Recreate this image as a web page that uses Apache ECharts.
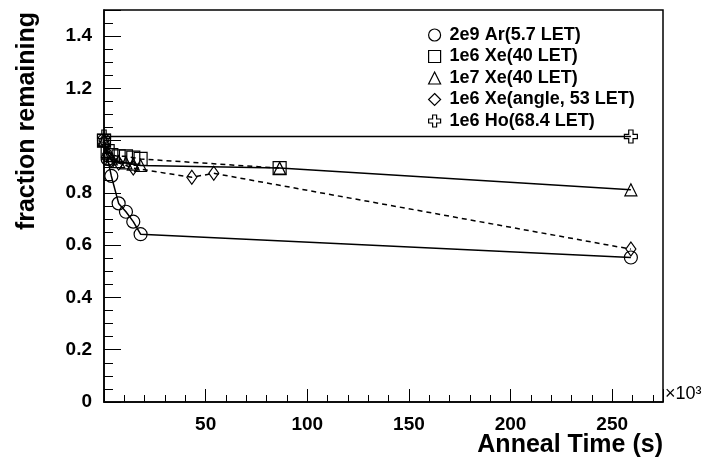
<!DOCTYPE html>
<html>
<head>
<meta charset="utf-8">
<script src="https://cdn.jsdelivr.net/npm/echarts@6/dist/echarts.min.js"></script>
<style>
html, body { margin: 0; padding: 0; background: #fff; }
#main { width: 710px; height: 468px; }
</style>
</head>
<body>
<div id="main"></div>
<script>
// 退火时间 (x10^3 s) 与剩余比例
var arX = [0, 1.8, 3.6, 7.2, 10.8, 14.4, 18, 259.2];
var arY = [1.0, 0.93, 0.865, 0.76, 0.728, 0.69, 0.642, 0.553];

var xe6X = [0, 1.8, 3.6, 7.2, 10.8, 14.4, 18, 86.4];
var xe6Y = [1.0, 0.96, 0.945, 0.94, 0.94, 0.935, 0.93, 0.895];

var xe7X = [0, 1.8, 3.6, 7.2, 10.8, 14.4, 18, 86.4, 259.2];
var xe7Y = [1.0, 0.95, 0.93, 0.92, 0.915, 0.91, 0.905, 0.895, 0.812];

var angX = [0, 1.8, 3.6, 7.2, 14.4, 43.2, 54, 259.2];
var angY = [1.0, 0.95, 0.925, 0.915, 0.895, 0.86, 0.875, 0.585];

var hoX = [0, 259.2];
var hoY = [1.016, 1.016];

var names = ['2e9 Ar(5.7 LET)', '1e6 Xe(40 LET)', '1e7 Xe(40 LET)', '1e6 Xe(angle, 53 LET)', '1e6 Ho(68.4 LET)'];

var crossPath = 'path://M4,0 H8 V4 H12 V8 H8 V12 H4 V8 H0 V4 H4 Z';

function pairs(xs, ys) {
    var out = [];
    for (var i = 0; i < xs.length; i++) out.push([xs[i], ys[i]]);
    return out;
}

var font = 'Liberation Sans, Arial, Helvetica, sans-serif';

function mkSeries(name, xs, ys, symbol, size, dashed) {
    return {
        name: name,
        type: 'line',
        data: pairs(xs, ys),
        symbol: symbol,
        symbolSize: size,
        showAllSymbol: true,
        itemStyle: { color: 'transparent', borderColor: '#000', borderWidth: 1.2 },
        lineStyle: { color: '#000', width: 1.5, type: dashed ? [5, 4] : 'solid' },
        emphasis: { disabled: true },
        z: 3
    };
}

var myChart = echarts.init(document.getElementById('main'));
myChart.setOption({
    animation: false,
    backgroundColor: '#fff',
    grid: {
        left: 104, right: 47, top: 10, bottom: 66,
        containLabel: false,
        outerBoundsMode: 'none',
        show: true, borderColor: '#000', borderWidth: 1.5, backgroundColor: 'transparent'
    },
    legend: {
        orient: 'vertical',
        left: 423, top: 21,
        itemWidth: 12, itemHeight: 12, itemGap: 3.5,
        selectedMode: false,
        data: [
            { name: names[0], icon: 'circle' },
            { name: names[1], icon: 'rect' },
            { name: names[2], icon: 'triangle' },
            { name: names[3], icon: 'diamond' },
            { name: names[4], icon: crossPath }
        ],
        itemStyle: { color: 'transparent', borderColor: '#000', borderWidth: 1.2 },
        textStyle: {
            fontFamily: font, fontWeight: 'bold', fontSize: 18, lineHeight: 17,
            color: '#000', padding: [0, 0, 0, 4]
        }
    },
    xAxis: {
        type: 'value',
        min: 0, max: 275, interval: 50,
        name: 'Anneal Time (s)',
        nameLocation: 'end',
        nameGap: 0,
        nameMoveOverlap: false,
        nameTextStyle: {
            fontFamily: font, fontWeight: 'bold', fontSize: 25, color: '#000',
            align: 'right', verticalAlign: 'top', padding: [31, 0, 0, 0]
        },
        axisLine: { lineStyle: { color: '#000', width: 1.5 } },
        axisTick: { inside: true, length: 13, lineStyle: { color: '#000', width: 1 } },
        minorTick: { show: true, splitNumber: 5, length: 7, lineStyle: { color: '#000', width: 1 } },
        splitLine: { show: false },
        axisLabel: {
            margin: 13,
            fontFamily: font, fontWeight: 'bold', fontSize: 19, color: '#000',
            formatter: function (v) { return (v === 0 || v % 50 !== 0) ? '' : String(v); }
        }
    },
    yAxis: {
        type: 'value',
        min: 0, max: 1.5, interval: 0.2,
        name: 'fraction remaining',
        nameLocation: 'end',
        nameGap: -2,
        nameRotate: 90,
        nameMoveOverlap: false,
        nameTextStyle: {
            fontFamily: font, fontWeight: 'bold', fontSize: 25, color: '#000',
            align: 'right', verticalAlign: 'bottom', padding: [0, 0, 64, 0]
        },
        axisLine: { lineStyle: { color: '#000', width: 1.5 } },
        axisTick: { inside: true, length: 17, lineStyle: { color: '#000', width: 1 } },
        minorTick: { show: true, splitNumber: 4, length: 9, lineStyle: { color: '#000', width: 1 } },
        splitLine: { show: false },
        axisLabel: {
            margin: 12,
            fontFamily: font, fontWeight: 'bold', fontSize: 19, color: '#000',
            formatter: function (v) {
                if (Math.abs(v - 1) < 1e-6 || v > 1.45) return '';
                return v === 0 ? '0' : v.toFixed(1);
            }
        }
    },
    graphic: [
        {
            type: 'text', left: 665, top: 385,
            style: { text: '×10³', fontFamily: font, fontSize: 18, fill: '#000' }
        }
    ],
    series: [
        mkSeries(names[0], arX, arY, 'circle', 13, false),
        mkSeries(names[1], xe6X, xe6Y, 'rect', 13, true),
        mkSeries(names[2], xe7X, xe7Y, 'triangle', 12, false),
        mkSeries(names[3], angX, angY, 'diamond', [10, 14], true),
        mkSeries(names[4], hoX, hoY, crossPath, 13, false)
    ]
});
</script>
</body>
</html>
